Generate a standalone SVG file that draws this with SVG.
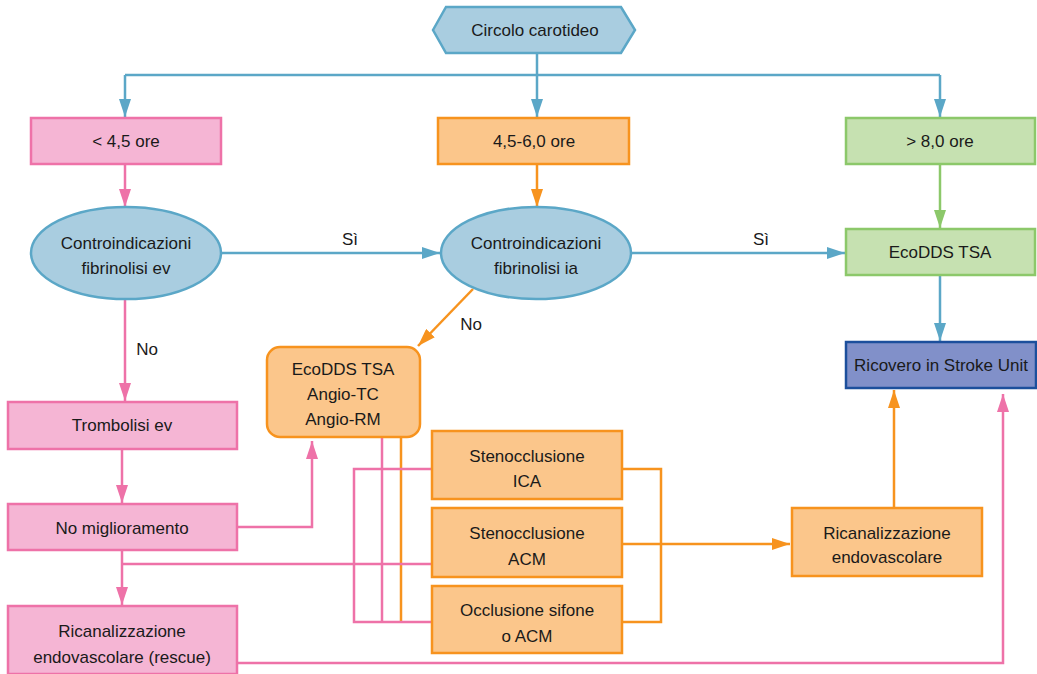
<svg xmlns="http://www.w3.org/2000/svg" width="1037" height="674" viewBox="0 0 1037 674">
  <style>
    text { font-family: "Liberation Sans", Arial, sans-serif; font-size: 17px; fill: #1a1a1a; text-anchor: middle; }
    .blue { fill: #a9cde0; stroke: #5ba7c7; stroke-width: 2.5; }
    .pink { fill: #f5b5d4; stroke: #ee72a8; stroke-width: 2.5; }
    .orange { fill: #fbc68b; stroke: #f7931e; stroke-width: 2.5; }
    .green { fill: #c6e1b1; stroke: #8cc86a; stroke-width: 2.5; }
    .navy { fill: #8190c9; stroke: #1c4f9c; stroke-width: 2.5; }
    .c-blue { fill: none; stroke: #5ba7c7; stroke-width: 2.5; }
    .c-pink { fill: none; stroke: #ee72a8; stroke-width: 2.5; }
    .c-orange { fill: none; stroke: #f7931e; stroke-width: 2.5; }
    .c-green { fill: none; stroke: #8cc86a; stroke-width: 2.5; }
  </style>
  <defs>
    <marker id="ah-blue" markerUnits="userSpaceOnUse" markerWidth="18" markerHeight="12" refX="18" refY="6" orient="auto">
      <path d="M0,0 L18,6 L0,12 z" fill="#5ba7c7"/>
    </marker>
    <marker id="ah-pink" markerUnits="userSpaceOnUse" markerWidth="18" markerHeight="12" refX="18" refY="6" orient="auto">
      <path d="M0,0 L18,6 L0,12 z" fill="#ee72a8"/>
    </marker>
    <marker id="ah-orange" markerUnits="userSpaceOnUse" markerWidth="18" markerHeight="12" refX="18" refY="6" orient="auto">
      <path d="M0,0 L18,6 L0,12 z" fill="#f7931e"/>
    </marker>
    <marker id="ah-green" markerUnits="userSpaceOnUse" markerWidth="18" markerHeight="12" refX="18" refY="6" orient="auto">
      <path d="M0,0 L18,6 L0,12 z" fill="#8cc86a"/>
    </marker>
  </defs>

  <rect width="1037" height="674" fill="#ffffff"/>

  <!-- connectors -->
  <g id="connectors">
    <!-- blue -->
    <path class="c-blue" d="M537,53 V117" marker-end="url(#ah-blue)"/>
    <path class="c-blue" d="M125,75 H940"/>
    <path class="c-blue" d="M125,75 V117" marker-end="url(#ah-blue)"/>
    <path class="c-blue" d="M940,75 V117" marker-end="url(#ah-blue)"/>
    <path class="c-blue" d="M221,253 H440" marker-end="url(#ah-blue)"/>
    <path class="c-blue" d="M632,253 H845" marker-end="url(#ah-blue)"/>
    <path class="c-blue" d="M940,275 V341" marker-end="url(#ah-blue)"/>
    <!-- green -->
    <path class="c-green" d="M940,164 V228" marker-end="url(#ah-green)"/>
    <!-- orange -->
    <path class="c-orange" d="M537,164 V207" marker-end="url(#ah-orange)"/>
    <path class="c-orange" d="M473,289 L418,346" marker-end="url(#ah-orange)"/>
    <path class="c-orange" d="M401,437 V622"/>
    <path class="c-orange" d="M622,469 H661 V622 H622"/>
    <path class="c-orange" d="M622,544 H790" marker-end="url(#ah-orange)"/>
    <path class="c-orange" d="M894,508 V390" marker-end="url(#ah-orange)"/>
    <!-- pink -->
    <path class="c-pink" d="M125,164 V207" marker-end="url(#ah-pink)"/>
    <path class="c-pink" d="M125,300 V401" marker-end="url(#ah-pink)"/>
    <path class="c-pink" d="M122,449 V503" marker-end="url(#ah-pink)"/>
    <path class="c-pink" d="M122,550 V605" marker-end="url(#ah-pink)"/>
    <path class="c-pink" d="M122,564 H432"/>
    <path class="c-pink" d="M237,527 H312 V441" marker-end="url(#ah-pink)"/>
    <path class="c-pink" d="M432,469 H354 V622 H432"/>
    <path class="c-pink" d="M382,437 V622"/>
    <path class="c-pink" d="M237,663 H1003 V394" marker-end="url(#ah-pink)"/>
    <!-- labels -->
    <text x="350" y="245">Sì</text>
    <text x="761" y="245">Sì</text>
    <text x="147" y="355">No</text>
    <text x="471" y="330">No</text>
  </g>

  <g id="circolo-carotideo">
    <polygon class="blue" points="433,30 446,7 621,7 635,30 621,53 446,53"/>
    <text x="535" y="36">Circolo carotideo</text>
  </g>

  <g id="lt-4-5-ore">
    <rect class="pink" x="31" y="118" width="190" height="46"/>
    <text x="126" y="147">&lt; 4,5 ore</text>
  </g>

  <g id="ore-4-5-6-0">
    <rect class="orange" x="438" y="118" width="191" height="46"/>
    <text x="534" y="147">4,5-6,0 ore</text>
  </g>

  <g id="gt-8-0-ore">
    <rect class="green" x="846" y="118" width="189" height="46"/>
    <text x="940" y="147">&gt; 8,0 ore</text>
  </g>

  <g id="controindicazioni-ev">
    <ellipse class="blue" cx="126" cy="253" rx="95" ry="46"/>
    <text x="126" y="249">Controindicazioni</text>
    <text x="126" y="274">fibrinolisi ev</text>
  </g>

  <g id="controindicazioni-ia">
    <ellipse class="blue" cx="536" cy="253" rx="95" ry="46"/>
    <text x="536" y="249">Controindicazioni</text>
    <text x="536" y="274">fibrinolisi ia</text>
  </g>

  <g id="ecodds-tsa">
    <rect class="green" x="846" y="229" width="189" height="46"/>
    <text x="940" y="258">EcoDDS TSA</text>
  </g>

  <g id="stroke-unit">
    <rect class="navy" x="846" y="342" width="190" height="46"/>
    <text x="941" y="371">Ricovero in Stroke Unit</text>
  </g>

  <g id="imaging">
    <rect class="orange" x="267" y="347" width="153" height="90" rx="13"/>
    <text x="343" y="375">EcoDDS TSA</text>
    <text x="343" y="400">Angio-TC</text>
    <text x="343" y="425">Angio-RM</text>
  </g>

  <g id="trombolisi-ev">
    <rect class="pink" x="8" y="402" width="229" height="47"/>
    <text x="122" y="431">Trombolisi ev</text>
  </g>

  <g id="no-miglioramento">
    <rect class="pink" x="8" y="504" width="229" height="46"/>
    <text x="122" y="534">No miglioramento</text>
  </g>

  <g id="ricanalizzazione-rescue">
    <rect class="pink" x="8" y="606" width="229" height="68"/>
    <text x="122" y="637">Ricanalizzazione</text>
    <text x="122" y="663">endovascolare (rescue)</text>
  </g>

  <g id="stenocclusione-ica">
    <rect class="orange" x="432" y="431" width="190" height="68"/>
    <text x="527" y="462">Stenocclusione</text>
    <text x="527" y="487">ICA</text>
  </g>

  <g id="stenocclusione-acm">
    <rect class="orange" x="432" y="508" width="190" height="69"/>
    <text x="527" y="539">Stenocclusione</text>
    <text x="527" y="565">ACM</text>
  </g>

  <g id="occlusione-sifone">
    <rect class="orange" x="432" y="586" width="190" height="67"/>
    <text x="527" y="616">Occlusione sifone</text>
    <text x="527" y="642">o ACM</text>
  </g>

  <g id="ricanalizzazione-endovascolare">
    <rect class="orange" x="792" y="508" width="190" height="68"/>
    <text x="887" y="539">Ricanalizzazione</text>
    <text x="887" y="563">endovascolare</text>
  </g>
</svg>
